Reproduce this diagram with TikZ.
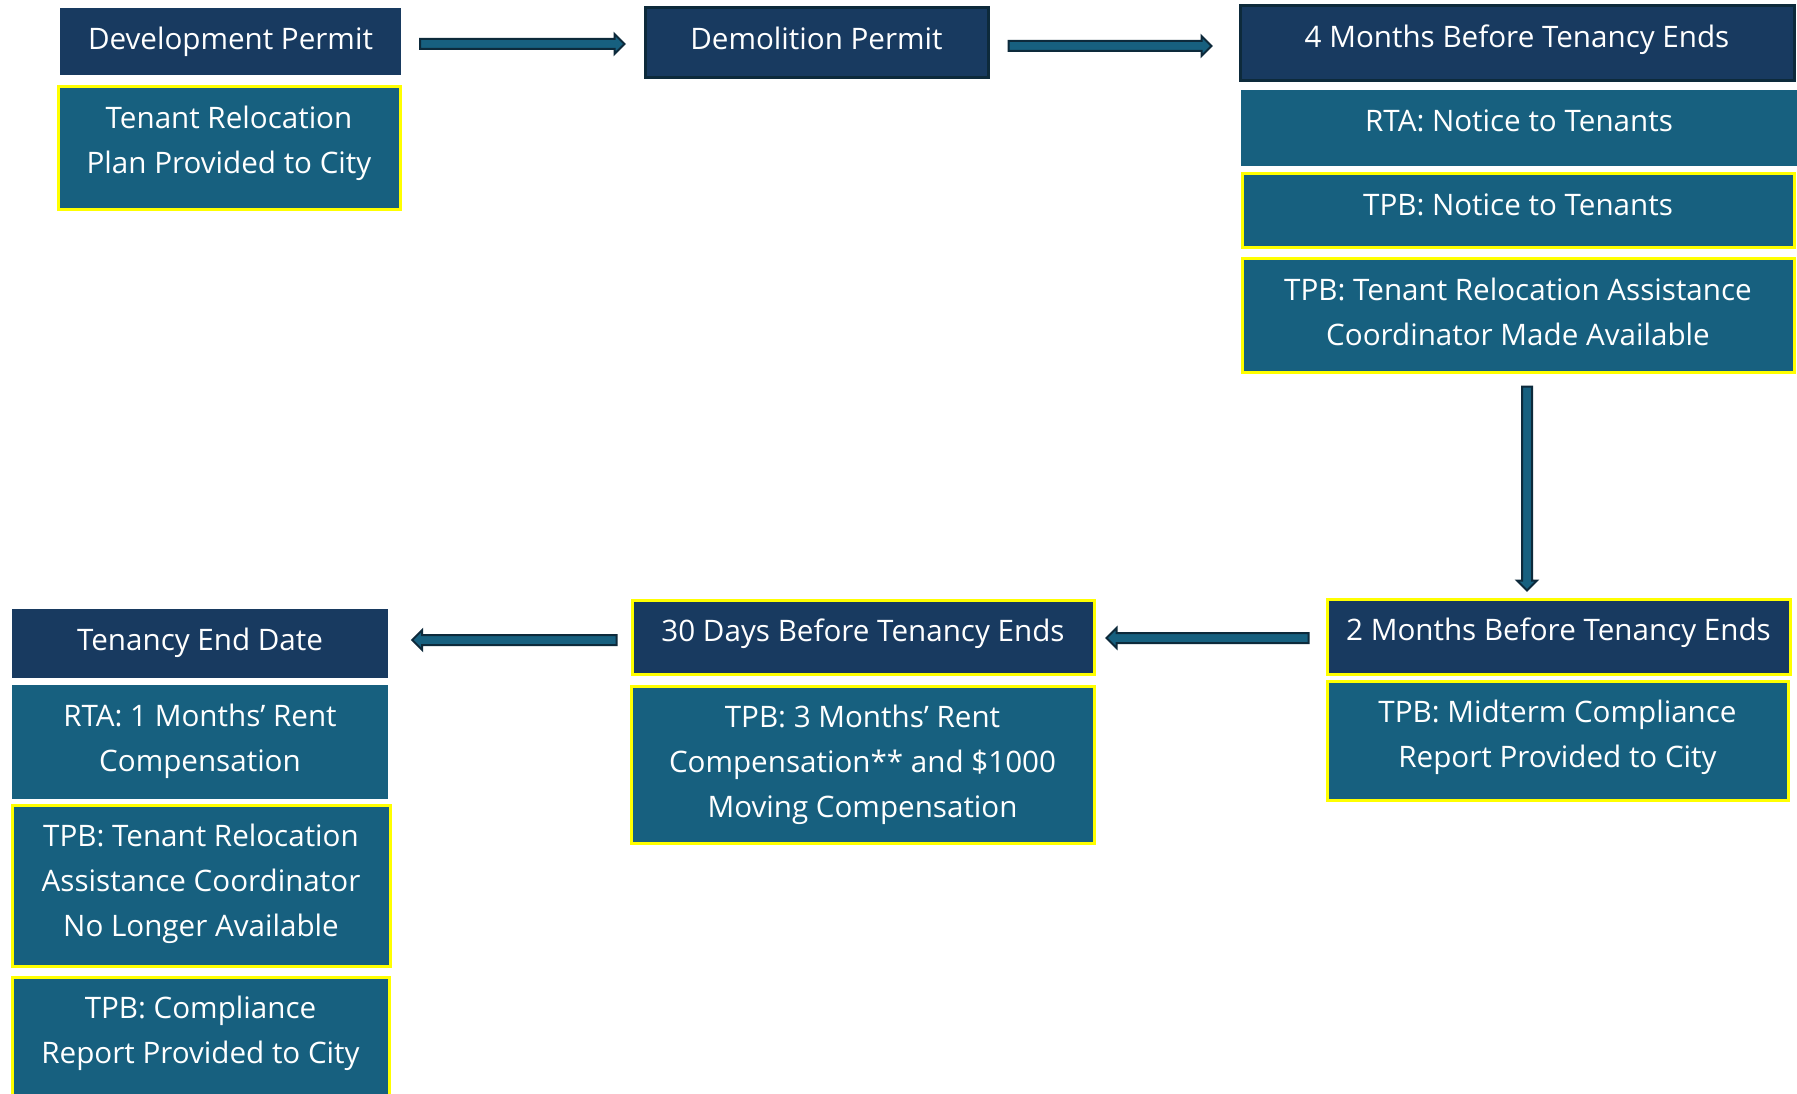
\documentclass[tikz,border=0pt]{standalone}
\usepackage{fontspec}
\setmainfont{Open Sans}
\usetikzlibrary{calc}
\definecolor{navy}{HTML}{183A60}
\definecolor{tealb}{HTML}{17607F}
\definecolor{darkedge}{HTML}{0D2A3B}
\definecolor{yel}{HTML}{FFFF00}
\tikzset{
 navybox/.style={rectangle, fill=navy, inner sep=0pt},
 navyedge/.style={navybox, draw=darkedge, line width=3pt},
 navyyel/.style={navybox, draw=yel, line width=3pt},
 tealbox/.style={rectangle, fill=tealb, inner sep=0pt},
 tealyel/.style={tealbox, draw=yel, line width=3pt},
 txt/.style={text=white, inner sep=0pt, align=center, font=\fontsize{29.6}{45}\selectfont},
 blockarrow/.style={to path={let \p1=(\tikztostart),\p2=(\tikztotarget),
   \n1={atan2(\y2-\y1,\x2-\x1)},\n2={veclen(\x2-\x1,\y2-\y1)} in
   (\p1) ++(\n1+90:5pt) -- ++(\n1:{\n2*1pt-10pt}) -- ++(\n1+90:5pt) -- (\p2)
   -- ++(\n1+225:14.142pt) -- ++(\n1+90:5pt) -- ++(\n1+180:{\n2*1pt-10pt}) -- cycle}},
 arrowstyle/.style={draw=darkedge, fill=tealb, line width=2pt, line join=miter}
}
\newcommand{\bx}[7]{%
 \node[#2, minimum width={(#5-#3)*1pt}, minimum height={(#6-#4)*1pt}] (#1) at ({(#3+#5)/2},{(#4+#6)/2}) {};
 \node[txt, anchor=north] (#1t) at ({(#3+#5)/2},{#4+10}) {\strut #7};
}
\begin{document}
\begin{tikzpicture}[x=1pt,y=-1pt]
\useasboundingbox (0,0) rectangle (1797,1094);
\fill[white] (0,0) rectangle (1797,1094);
\bx{dev}{navybox}{60}{8}{401}{75}{Development Permit}
\bx{trp}{tealyel}{58}{87}{400}{210}{Tenant Relocation\\Plan Provided to City}
\bx{demo}{navyedge}{645}{8}{988}{78}{Demolition Permit}
\bx{fourm}{navyedge}{1240}{6}{1794}{81}{4 Months Before Tenancy Ends}
\bx{rtan}{tealbox}{1241}{90}{1797}{166}{RTA: Notice to Tenants}
\bx{tpbn}{tealyel}{1242}{174}{1794}{248}{TPB: Notice to Tenants}
\bx{tpbc}{tealyel}{1242}{259}{1794}{372}{TPB: Tenant Relocation Assistance\\Coordinator Made Available}
\bx{twom}{navyyel}{1327}{599}{1790}{674}{2 Months Before Tenancy Ends}
\bx{mid}{tealyel}{1327}{681}{1788}{800}{TPB: Midterm Compliance\\Report Provided to City}
\bx{thirty}{navyyel}{632}{600}{1094}{674}{30 Days Before Tenancy Ends}
\bx{three}{tealyel}{631}{686}{1094}{843}{TPB: 3 Months’ Rent\\Compensation** and \$1000\\Moving Compensation}
\bx{ted}{navybox}{12}{609}{388}{678}{Tenancy End Date}
\bx{rtaone}{tealbox}{12}{685}{388}{799}{RTA: 1 Months’ Rent\\Compensation}
\bx{tpbnl}{tealyel}{12}{805}{390}{966}{TPB: Tenant Relocation\\Assistance Coordinator\\No Longer Available}
\bx{comp}{tealyel}{12}{977}{389}{1110}{TPB: Compliance\\Report Provided to City}
\draw[arrowstyle, blockarrow] ($(dev.east)+(19,2.5)$) to ($(demo.west)+(-19,1)$);
\draw[arrowstyle, blockarrow] ($(demo.east)+(19,3)$) to ($(fourm.west)+(-27,2.5)$);
\draw[arrowstyle, blockarrow] ($(tpbc.south)+(9,13)$) to ($(twom.north)+(-31.5,-7)$);
\draw[arrowstyle, blockarrow] ($(twom.west)+(-17,1.5)$) to ($(thirty.east)+(11,1)$);
\draw[arrowstyle, blockarrow] ($(thirty.west)+(-14,3)$) to ($(ted.east)+(24,-3.5)$);
\end{tikzpicture}
\end{document}
